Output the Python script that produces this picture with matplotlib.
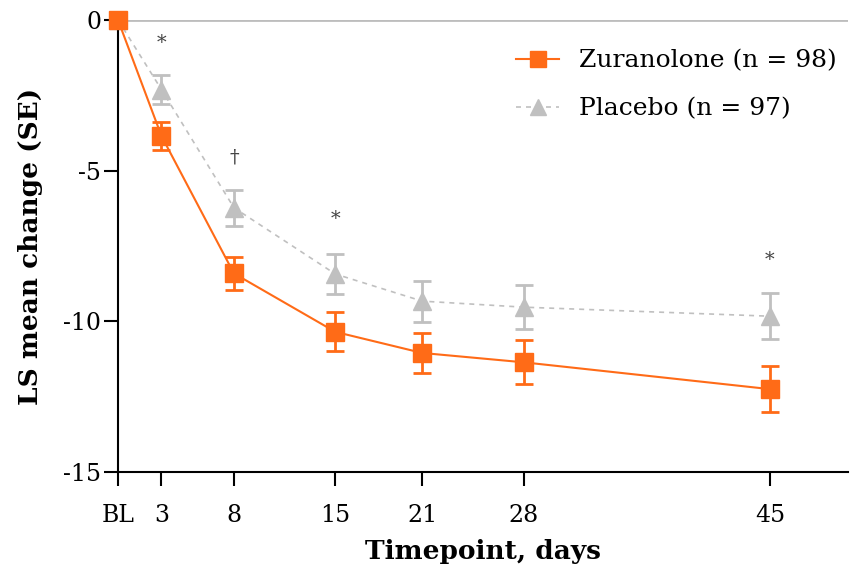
import matplotlib
matplotlib.use('Agg')
import matplotlib.pyplot as plt

# data
days = [0, 3, 8, 15, 21, 28, 45]
tick_labels = ['BL', '3', '8', '15', '21', '28', '45']
zur_mean = [0, -3.85, -8.41, -10.35, -11.05, -11.36, -12.25]
zur_se = [0, 0.45, 0.55, 0.65, 0.67, 0.73, 0.77]
plc_mean = [0, -2.31, -6.23, -8.43, -9.33, -9.53, -9.83]
plc_se = [0, 0.48, 0.6, 0.66, 0.68, 0.73, 0.76]
sig_days = [3, 8, 15, 45]
sig_marks = ['*', '†', '*', '*']
sig_y = [-0.75, -4.55, -6.6, -7.95]

orange = '#ff6b17'
grey = '#c0c0c0'

plt.rcParams['font.family'] = ['DejaVu Serif']

fig = plt.figure(figsize=(8.52, 5.74), dpi=100)
ax = fig.add_axes([0.1385, 0.1777, 0.857, 0.7875])

ax.axhline(0, color='#bdbdbd', lw=2, zorder=1)

plc = ax.errorbar(days, plc_mean, yerr=plc_se, color=grey, ls=(0, (3, 3)), lw=1.2,
                  marker='^', markersize=13, capsize=6.5, capthick=2, elinewidth=2,
                  zorder=2, clip_on=False)
zur = ax.errorbar(days, zur_mean, yerr=zur_se, color=orange, ls='-', lw=1.5,
                  marker='s', markersize=13, capsize=6.5, capthick=2, elinewidth=2,
                  zorder=3, clip_on=False)

for d, m, y in zip(sig_days, sig_marks, sig_y):
    ax.text(d, y, m, ha='center', va='center', fontsize=14, color='#444444')

ax.set_xlim(0, 50.4)
ax.set_ylim(-15, 0)
ax.set_xticks(days)
ax.set_xticklabels(tick_labels)
ax.set_yticks([-15, -10, -5, 0])
ax.set_yticklabels(['-15', '-10', '-5', '0'])
ax.tick_params(axis='both', labelsize=17, length=10, width=1.5, color='black')
ax.tick_params(axis='x', pad=13)
ax.tick_params(axis='y', pad=2)

for s in ['top', 'right']:
    ax.spines[s].set_visible(False)
ax.spines['left'].set_linewidth(1.5)
ax.spines['bottom'].set_linewidth(1.5)

ax.set_xlabel('Timepoint, days', fontsize=19, fontweight='bold', labelpad=9)
ax.set_ylabel('LS mean change (SE)', fontsize=19, fontweight='bold', labelpad=15)

ax.legend([zur[0], plc[0]], ['Zuranolone (n = 98)', 'Placebo (n = 97)'],
          loc='upper right', frameon=False, fontsize=18,
          bbox_to_anchor=(1.015, 0.985), handlelength=1.7, handletextpad=0.8,
          labelspacing=1.0, markerscale=0.85)

fig.savefig('out.png', dpi=100)
